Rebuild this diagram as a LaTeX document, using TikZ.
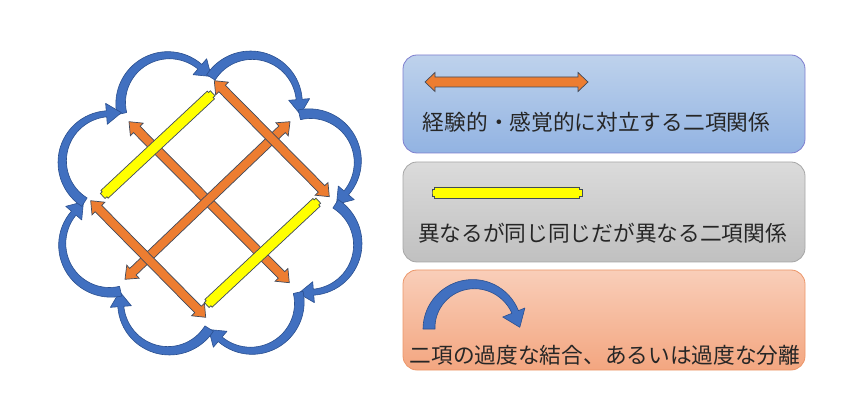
\documentclass[tikz,border=0pt]{standalone}
\usepackage{fontspec}
\newfontfamily\jpfont{Noto Sans CJK JP}
\usetikzlibrary{calc}

\definecolor{arroworange}{HTML}{ED7D31}
\definecolor{arrowedge}{HTML}{3F4A5C}
\definecolor{barfill}{HTML}{FFFF00}
\definecolor{lobeblue}{HTML}{4170C0}
\definecolor{lobeedge}{HTML}{2A4F8F}
\definecolor{textgray}{HTML}{262626}

\tikzset{
  lobestyle/.style={fill=lobeblue, draw=lobeedge, line width=0.6pt, line join=round},
  % double headed arrow between two points: shaft half width, head half width, head length
  dblarrow/.style n args={3}{fill=arroworange, draw=arrowedge, line width=0.7pt,
    to path={
      -- ($(\tikztostart)!#3!(\tikztotarget)!#2!90:(\tikztotarget)$)
      -- ($(\tikztostart)!#3!(\tikztotarget)!#1!90:(\tikztotarget)$)
      -- ($(\tikztotarget)!#3!(\tikztostart)!#1!-90:(\tikztostart)$)
      -- ($(\tikztotarget)!#3!(\tikztostart)!#2!-90:(\tikztostart)$)
      -- (\tikztotarget)
      -- ($(\tikztotarget)!#3!(\tikztostart)!#2!90:(\tikztostart)$)
      -- ($(\tikztotarget)!#3!(\tikztostart)!#1!90:(\tikztostart)$)
      -- ($(\tikztostart)!#3!(\tikztotarget)!#1!-90:(\tikztotarget)$)
      -- ($(\tikztostart)!#3!(\tikztotarget)!#2!-90:(\tikztotarget)$)
      -- cycle}},
  % notched bar: half width, end half width, notch length
  yellowbar/.style n args={3}{fill=barfill, draw=arrowedge, line width=0.7pt,
    to path={
      -- ($(\tikztostart)!#2!90:(\tikztotarget)$)
      -- ($(\tikztostart)!#3!(\tikztotarget)!#2!90:(\tikztotarget)$)
      -- ($(\tikztostart)!#3!(\tikztotarget)!#1!90:(\tikztotarget)$)
      -- ($(\tikztotarget)!#3!(\tikztostart)!#1!-90:(\tikztostart)$)
      -- ($(\tikztotarget)!#3!(\tikztostart)!#2!-90:(\tikztostart)$)
      -- ($(\tikztotarget)!#2!-90:(\tikztostart)$)
      -- ($(\tikztotarget)!#2!90:(\tikztostart)$)
      -- ($(\tikztotarget)!#3!(\tikztostart)!#2!90:(\tikztostart)$)
      -- ($(\tikztotarget)!#3!(\tikztostart)!#1!90:(\tikztostart)$)
      -- ($(\tikztostart)!#3!(\tikztotarget)!#1!-90:(\tikztotarget)$)
      -- ($(\tikztostart)!#3!(\tikztotarget)!#2!-90:(\tikztotarget)$)
      -- ($(\tikztostart)!#2!-90:(\tikztotarget)$)
      -- cycle}},
  legendbox/.style={minimum width=402pt, minimum height=100pt, rounded corners=14pt, line width=0.8pt},
  legendtext/.style={font=\jpfont\fontsize{21.7}{26}\selectfont, text=textgray, inner sep=0pt},
  % one lobe of the cloud, pointing up, running clockwise
  lobe/.pic={
    \filldraw[lobestyle]
      plot[domain=170:27, samples=30, smooth] ({(53-2*(170-\x)/143)*cos(\x)}, {(53-2*(170-\x)/143)*sin(\x)})
      -- (27:58.5) -- (49.6,8.4) -- (27:37.5)
      -- plot[domain=27:170, samples=30, smooth] ({(43+2*(170-\x)/143)*cos(\x)}, {(43+2*(170-\x)/143)*sin(\x)})
      -- cycle;
  }
}

\begin{document}
\begin{tikzpicture}[x=1pt, y=1pt]
    \useasboundingbox (0,0) rectangle (853,415);

    % cloud of curved arrows
    \coordinate (C) at (210,212);
    \foreach \k [evaluate=\k as \ang using 112.5-45*\k] in {0,...,7}
        \pic[rotate=\ang-90] at ($(C)+(\ang:108)$) {lobe};

    % end points of the arrows and bars
    \coordinate (b1) at (129,293.3);   \coordinate (b2) at (289.3,132.3);
    \coordinate (d1) at (125,135.7);   \coordinate (d2) at (290,293.3);
    \coordinate (a1) at (214.3,334.3); \coordinate (a2) at (329.3,218.3);
    \coordinate (c1) at (90.7,214.3);  \coordinate (c2) at (205.7,97.7);
    \coordinate (e1) at (102.7,219);   \coordinate (e2) at (212.7,321.7);
    \coordinate (f1) at (206.7,110);   \coordinate (f2) at (318.3,214.3);

    \draw[dblarrow={4.6pt}{9pt}{11pt}] (b1) to (b2);
    \draw[dblarrow={4.6pt}{9pt}{11pt}] (d1) to (d2);
    \draw[dblarrow={4.6pt}{9pt}{11pt}] (a1) to (a2);
    \draw[dblarrow={4.6pt}{9pt}{11pt}] (c1) to (c2);
    \draw[yellowbar={5.3pt}{3.4pt}{2.5pt}] (e1) to (e2);
    \draw[yellowbar={5.3pt}{3.4pt}{2.5pt}] (f1) to (f2);

    % legend boxes
    \node[legendbox, minimum height=98pt, draw=blue!45!gray!70, top color={rgb,255:red,190;green,210;blue,236}, bottom color={rgb,255:red,146;green,179;blue,226}] (boxa) at (604,311) {};
    \node[legendbox, draw=black!35, top color={rgb,255:red,219;green,219;blue,219}, bottom color={rgb,255:red,192;green,192;blue,192}] (boxb) at (604,203) {};
    \node[legendbox, draw={rgb,255:red,236;green,150;blue,105}, top color={rgb,255:red,249;green,206;blue,185}, bottom color={rgb,255:red,243;green,166;blue,128}] (boxc) at (604,95) {};

    \coordinate (la1) at (425,333); \coordinate (la2) at (588,333);
    \draw[dblarrow={5pt}{9.5pt}{10pt}] (la1) to (la2);
    \coordinate (lb1) at (432,222.5); \coordinate (lb2) at (582,222.5);
    \draw[yellowbar={5.5pt}{3.5pt}{2.5pt}] (lb1) to (lb2);
    \filldraw[lobestyle]
      plot[domain=180:22, samples=30, smooth] ({473+(50-1*(180-\x)/158)*cos(\x)}, {86+(50-1*(180-\x)/158)*sin(\x)})
      -- (524.9,107.0) -- (519.8,87.7) -- (502.7,98.0)
      -- plot[domain=22:180, samples=30, smooth] ({473+(38+4*(180-\x)/158)*cos(\x)}, {86+(38+4*(180-\x)/158)*sin(\x)})
      -- cycle;

    \node[legendtext] (ta) at (596.5,293) {経験的・感覚的に対立する二項関係};
    \node[legendtext] (tb) at (602.5,182) {異なるが同じ同じだが異なる二項関係};
    \node[legendtext] (tc) at (605,60) {二項の過度な結合、あるいは過度な分離};
\end{tikzpicture}
\end{document}
